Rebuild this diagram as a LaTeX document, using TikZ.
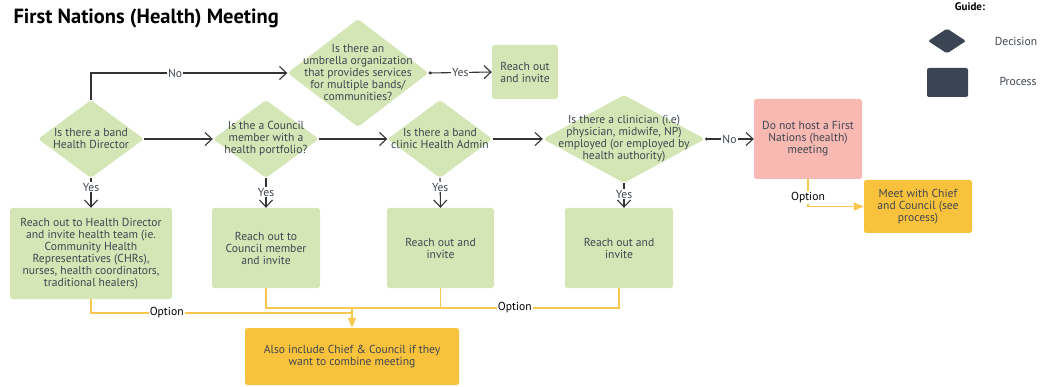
\documentclass[tikz,border=0pt]{standalone}
\usepackage{fontspec}
\setmainfont{PT Sans}
\usetikzlibrary{shapes.geometric,arrows.meta}
\definecolor{leaf}{HTML}{D4E6B5}
\definecolor{blush}{HTML}{F8B9B3}
\definecolor{amber}{HTML}{F9C23C}
\definecolor{amberline}{HTML}{F9C74F}
\definecolor{ink}{HTML}{3F4650}
\definecolor{slate}{HTML}{3A4452}
\definecolor{wire}{HTML}{333333}
\begin{document}
\begin{tikzpicture}[x=1pt,y=-1pt,
  font=\fontsize{11.6}{12}\selectfont,
  chev/.tip={Straight Barb[length=7pt,width=13pt,line width=1.1pt]},
  tri/.tip={Triangle[length=10pt,width=8pt]},
  dec/.style={diamond, fill=leaf, draw=none, inner sep=0pt, rounded corners=3pt},
  dectext/.style={align=center, text=ink, inner sep=0pt},
  proc/.style={rectangle, fill=leaf, rounded corners=2.5pt, align=center, text=ink, inner sep=0pt},
  flow/.style={draw=wire, line width=1.1pt, -chev},
  dotflow/.style={draw=wire, line width=1.1pt, {Circle[length=3pt]}-chev},
  opt/.style={draw=amberline, line width=1.3pt},
  lbl/.style={fill=white, inner sep=1pt, text=ink},
]
\useasboundingbox (0,0) rectangle (1043,387);

% title
\node[anchor=west, font=\fontsize{20.5}{24}\selectfont\bfseries, text=black] (title) at (10,18) {First Nations (Health) Meeting};

% guide
\node[font=\fontsize{11}{12}\selectfont\bfseries, text=black] (guide) at (970,7) {Guide:};
\node[diamond, fill=slate, inner sep=0pt, minimum width=38pt, minimum height=25pt, rounded corners=2pt] (gdec) at (947,41) {};
\node[text=ink] (gdecl) at (1016,41) {Decision};
\node[rectangle, fill=slate, minimum width=41pt, minimum height=29pt, rounded corners=2pt] (gproc) at (947.5,82.5) {};
\node[text=ink] (gprocl) at (1018,81) {Process};

% decisions
\node[dec, minimum width=106pt, minimum height=78pt,
  label={[dectext]center:{Is there a band\\Health Director}}] (d1) at (91,139) {};
\node[dec, minimum width=106pt, minimum height=78pt,
  label={[dectext]center:{Is the a Council\\member with a\\health portfolio?}}] (d2) at (266,139) {};
\node[dec, minimum width=141pt, minimum height=108pt,
  label={[dectext]center:{Is there an\\umbrella organization\\that provides services\\for multiple bands/\\communities?}}] (dtop) at (358,73) {};
\node[dec, minimum width=105pt, minimum height=78pt,
  label={[dectext]center:{Is there a band\\clinic Health Admin}}] (d3) at (440,139) {};
\node[dec, minimum width=162pt, minimum height=88pt,
  label={[dectext]center:{Is there a clinician (i.e)\\physician, midwife, NP)\\employed (or employed by\\health authority)}}] (d4) at (624,139) {};

% processes
\node[proc, minimum width=66pt, minimum height=54pt] (ro) at (525,72) {Reach out\\and invite};
\node[proc, fill=blush, minimum width=108pt, minimum height=80pt] (nohost) at (808,139) {Do not host a First\\Nations (health)\\meeting};
\node[proc, fill=amber, minimum width=108pt, minimum height=53pt] (meet) at (918,206.5) {Meet with Chief\\and Council (see\\process)};
\node[proc, minimum width=162pt, minimum height=91pt] (b1) at (91,253.5) {Reach out to Health Director\\and invite health team (ie.\\Community Health\\Representatives (CHRs),\\nurses, health coordinators,\\traditional healers)};
\node[proc, minimum width=108pt, minimum height=80pt] (b2) at (266,248) {Reach out to\\Council member\\and invite};
\node[proc, minimum width=107pt, minimum height=80pt] (b3) at (440.5,248) {Reach out and\\invite};
\node[proc, minimum width=108pt, minimum height=80pt] (b4) at (619,248) {Reach out and\\invite};
\node[proc, fill=amber, minimum width=214pt, minimum height=57pt] (fin) at (352,356.5) {Also include Chief \& Council if they\\want to combine meeting};

% decision flow
\draw[flow] (d1.north) |- node[lbl, pos=0.714] {No} (dtop.west);
\draw[dotflow] (dtop.east) -- node[lbl] {Yes} (ro.west);
\draw[flow] (d1.east) -- (d2.west);
\draw[flow] (d2.east) -- (d3.west);
\draw[flow] (d3.east) -- (d4.west);
\draw[dotflow] (d4.east) -- node[lbl] {No} (nohost.west);

\draw[flow] (d1.south) -- node[lbl, pos=0.3] {Yes} (b1.north);
\draw[flow] (d2.south) -- node[lbl, pos=0.47] {Yes} (b2.north);
\draw[flow] (d3.south) -- node[lbl, pos=0.3] {Yes} (b3.north);
\draw[flow] (d4.south) -- node[lbl, pos=0.45] {Yes} (d4.south |- b4.north);

% optional links
\coordinate (j2) at (352,308);
\coordinate (j1) at (352,313);
\draw[opt] (b2.south) |- (j2);
\draw[opt] (b3.south) |- (j2);
\draw[opt] (b4.south) |- node[lbl, pos=0.695, text=black] {Option} (j2);
\draw[opt] (j2) -- (j1);
\draw[opt, -tri] (b1.south) |- node[lbl, pos=0.645, text=black] {Option} (j1) -- (fin.north);
\draw[opt, -tri] (nohost.south) |- node[lbl, pos=0.33, text=black] {Option} (meet.west);
\end{tikzpicture}
\end{document}
